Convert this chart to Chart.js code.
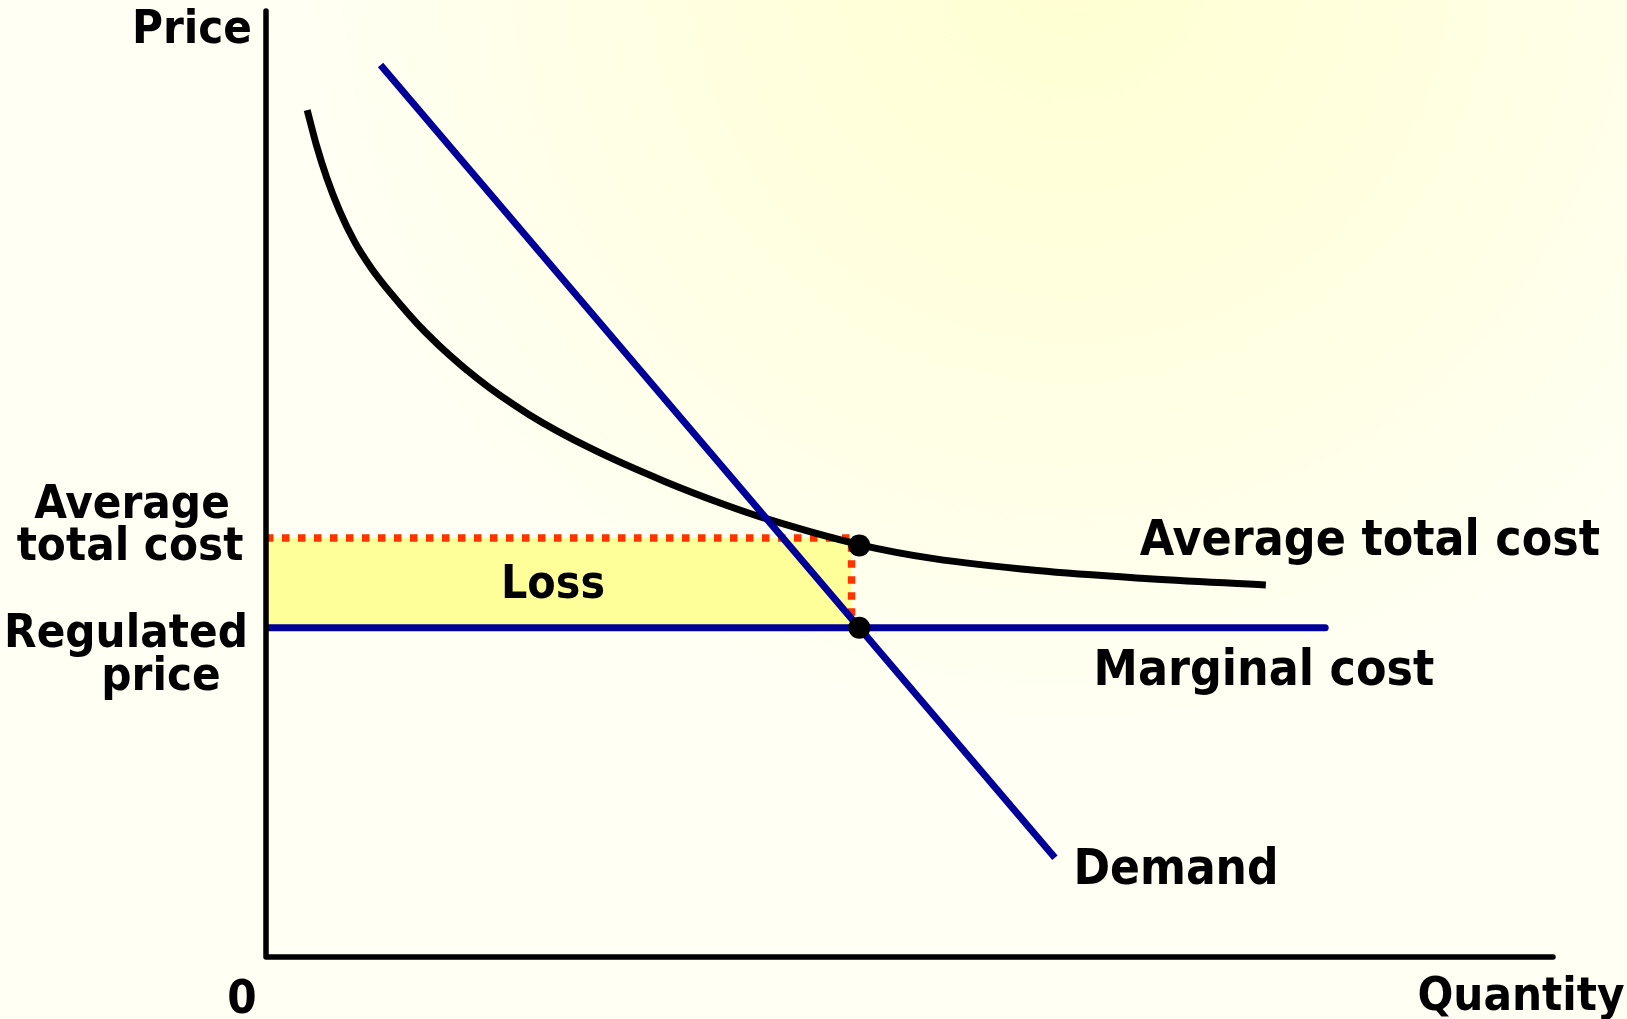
<!DOCTYPE html>
<html>
<head>
<meta charset="utf-8">
<script src="https://cdn.jsdelivr.net/npm/chart.js@4/dist/chart.umd.min.js"></script>
<style>
  html, body { margin: 0; padding: 0; background: #fffff3; overflow: hidden; }
  canvas { display: block; }
</style>
</head>
<body>
<canvas id="chart" width="1627" height="1019"></canvas>
<script>
// Axis ranges (quantity and price in arbitrary units)
const quantityMax = 100;
const priceMax = 100;

// Demand curve (straight line)
const demandQ = [8.9, 61.3];
const demandP = [94.3, 10.5];

// Average total cost curve
const atcQ = [3.2, 3.92, 4.73, 5.7, 6.9, 8.2, 9.57, 12.39, 16.42, 20.45, 25.29, 30.93, 35.77, 38.99, 46.09, 51.89, 59.95, 68.02, 77.69];
const atcP = [89.53, 85.81, 82.33, 78.93, 75.57, 72.79, 70.38, 66.04, 61.14, 57.33, 53.73, 50.3, 47.76, 46.28, 43.6, 42.11, 40.85, 40.04, 39.32];

// Marginal cost (flat) = regulated price
const regulatedPrice = 34.8;
const mcQ = [0, 82.3];

// Loss rectangle: from regulated price up to average total cost
const lossQ = [0, 45.5];
const lossTop = 44.3;

// Marked points where demand meets MC, and the ATC at that quantity
const markQ = [46.1, 46.1];
const markP = [43.5, 34.8];

const toXY = (qs, ps) => qs.map((q, i) => ({ x: q, y: ps[i] }));

const NAVY = '#000099';
const FONT = '"DejaVu Sans Condensed", "DejaVu Sans", sans-serif';

// Text labels (pixel layout): text, center x, baseline y, font size
const labels = [
  ['Price', 192, 43, 47],
  ['Average', 132, 518, 47],
  ['total cost', 130, 560, 47],
  ['Regulated', 126, 647, 47],
  ['price', 161, 690, 47],
  ['0', 242, 1013, 47],
  ['Quantity', 1521, 1010, 47],
  ['Loss', 553, 598, 46],
  ['Average total cost', 1370, 555, 49.5],
  ['Marginal cost', 1264, 685, 49.5],
  ['Demand', 1176, 884, 49]
];

const backgroundPlugin = {
  id: 'slideBackground',
  beforeDraw(chart) {
    const ctx = chart.ctx;
    const w = chart.width, h = chart.height;
    ctx.save();
    const g = ctx.createRadialGradient(1070, -40, 0, 1070, -40, 760);
    g.addColorStop(0, '#ffffd2');
    g.addColorStop(0.45, '#ffffdf');
    g.addColorStop(1, '#fffff3');
    ctx.fillStyle = '#fffff3';
    ctx.fillRect(0, 0, w, h);
    ctx.fillStyle = g;
    ctx.fillRect(0, 0, w, h);
    ctx.restore();
  }
};

const axesAndLabelsPlugin = {
  id: 'axesAndLabels',
  afterDatasetsDraw(chart) {
    const ctx = chart.ctx;
    const xs = chart.scales.x, ys = chart.scales.y;
    const x0 = xs.getPixelForValue(0), x1 = xs.getPixelForValue(quantityMax);
    const y0 = ys.getPixelForValue(0), y1 = ys.getPixelForValue(priceMax);
    ctx.save();
    ctx.strokeStyle = '#000';
    ctx.lineWidth = 5.5;
    ctx.lineCap = 'round';
    ctx.lineJoin = 'round';
    ctx.beginPath();
    ctx.moveTo(x0, y1);
    ctx.lineTo(x0, y0);
    ctx.lineTo(x1, y0);
    ctx.stroke();

    ctx.fillStyle = '#000';
    ctx.textAlign = 'center';
    ctx.textBaseline = 'alphabetic';
    labels.forEach(([t, cx, by, size]) => {
      ctx.font = 'bold ' + size + 'px ' + FONT;
      ctx.fillText(t, cx, by);
    });
    ctx.restore();
  }
};

new Chart(document.getElementById('chart'), {
  type: 'scatter',
  data: {
    datasets: [
      {
        label: 'Points',
        data: toXY(markQ, markP),
        showLine: false,
        pointRadius: 11,
        pointHoverRadius: 11,
        pointBackgroundColor: '#000',
        pointBorderWidth: 0,
        order: 0
      },
      {
        label: 'Marginal cost',
        data: toXY(mcQ, mcQ.map(() => regulatedPrice)),
        showLine: true,
        borderColor: NAVY,
        borderWidth: 7,
        borderCapStyle: 'round',
        pointRadius: 0,
        order: 1
      },
      {
        label: 'Demand',
        data: toXY(demandQ, demandP),
        showLine: true,
        borderColor: NAVY,
        borderWidth: 7,
        borderCapStyle: 'butt',
        pointRadius: 0,
        order: 2
      },
      {
        label: 'Average total cost',
        data: toXY(atcQ, atcP),
        showLine: true,
        borderColor: '#000',
        borderWidth: 7,
        borderCapStyle: 'butt',
        cubicInterpolationMode: 'monotone',
        pointRadius: 0,
        order: 3
      },
      {
        label: 'Guide',
        data: [
          { x: lossQ[0], y: lossTop },
          { x: lossQ[1], y: lossTop },
          { x: lossQ[1], y: regulatedPrice }
        ],
        showLine: true,
        borderColor: '#ff3300',
        borderWidth: 7.5,
        borderDash: [7.5, 8.5],
        borderCapStyle: 'butt',
        pointRadius: 0,
        order: 4
      },
      {
        label: 'Loss',
        data: toXY(lossQ, lossQ.map(() => lossTop)),
        showLine: true,
        borderWidth: 0,
        borderColor: 'rgba(0,0,0,0)',
        backgroundColor: '#ffff99',
        fill: { value: regulatedPrice },
        pointRadius: 0,
        order: 5
      }
    ]
  },
  options: {
    responsive: false,
    devicePixelRatio: 1,
    animation: false,
    events: [],
    layout: { padding: { left: 266, right: 74, top: 4, bottom: 62 } },
    plugins: {
      legend: { display: false },
      tooltip: { enabled: false },
      title: { display: false }
    },
    scales: {
      x: { type: 'linear', min: 0, max: quantityMax, display: false },
      y: { type: 'linear', min: 0, max: priceMax, display: false }
    }
  },
  plugins: [backgroundPlugin, axesAndLabelsPlugin]
});
</script>
</body>
</html>
